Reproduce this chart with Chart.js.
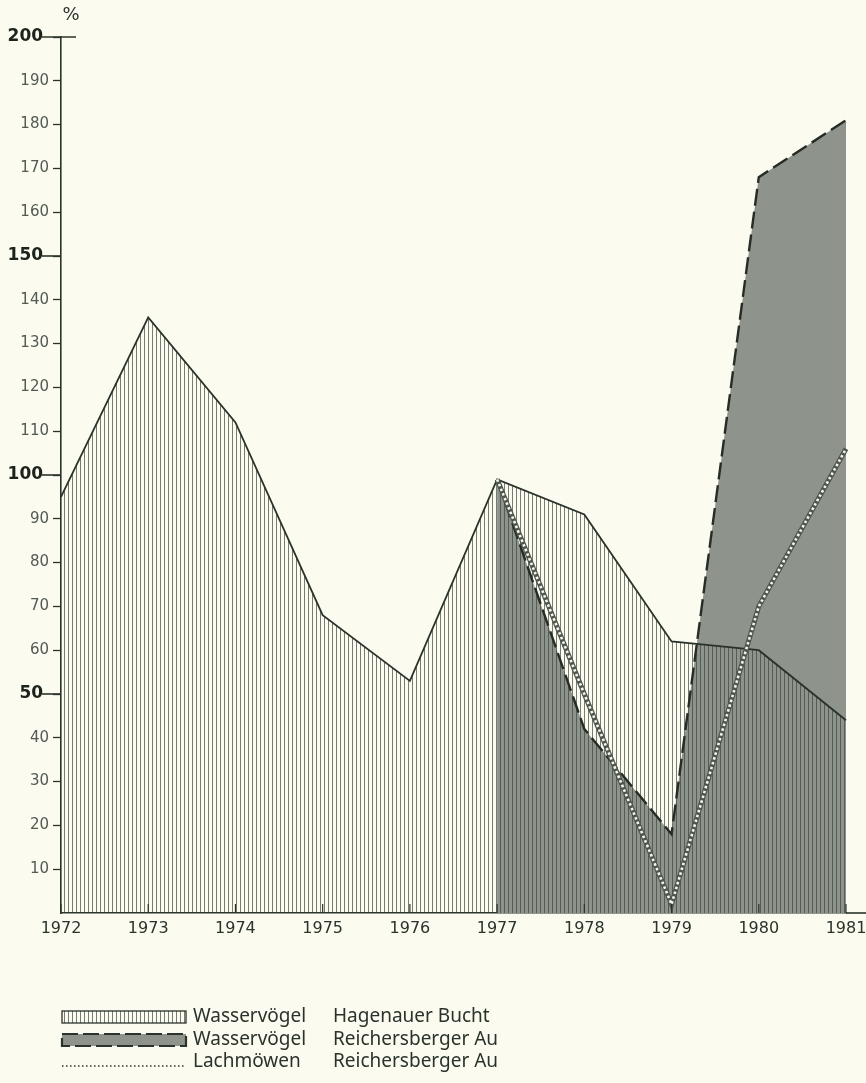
<!DOCTYPE html>
<html>
<head>
<meta charset="utf-8">
<script src="https://cdn.jsdelivr.net/npm/chart.js@4.4.1/dist/chart.umd.min.js"></script>
<style>
  body { margin: 0; background: #fbfbf0; }
  canvas { display: block; }
</style>
</head>
<body>
<canvas id="chart" width="866" height="1083"></canvas>
<script>
// values (% per year)
const years = ['1972', '1973', '1974', '1975', '1976', '1977', '1978', '1979', '1980', '1981'];
const hagenauerWasser = [95, 136, 112, 68, 53, 99, 91, 62, 60, 44];
const reichersbergWasser = [null, null, null, null, null, 99, 42, 18, 168, 181];
const reichersbergMoewen = [null, null, null, null, null, 99, 50, 2, 70, 106];
const yTicksBold = [50, 100, 150, 200];

const legendSpecies = ['Wasservögel', 'Wasservögel', 'Lachmöwen'];
const legendPlaces = ['Hagenauer Bucht', 'Reichersberger Au', 'Reichersberger Au'];

const ink = '#2a332b';
const grey = '#8e938b';

// vertical hatching used for Hagenauer Bucht
const makeHatch = () => {
  const c = document.createElement('canvas');
  c.width = 4;
  c.height = 8;
  const g = c.getContext('2d');
  g.fillStyle = 'rgba(60,70,60,0.7)';
  g.fillRect(0, 0, 1, 8);
  return g.createPattern(c, 'repeat');
};
const hatch = makeHatch();

// extra ticks, % sign, axis extension and legend
const decorPlugin = {
  id: 'decor',
  afterDraw(chart) {
    const ctx = chart.ctx;
    const y = chart.scales.y;
    const x = chart.scales.x;
    const area = chart.chartArea;
    ctx.save();
    ctx.strokeStyle = ink;
    ctx.lineWidth = 1.6;

    // long ticks for 50, 100, 150, 200
    yTicksBold.forEach(v => {
      const py = y.getPixelForValue(v);
      ctx.beginPath();
      ctx.moveTo(area.left - 19, py);
      ctx.lineTo(v === 200 ? area.left + 15 : area.left, py);
      ctx.stroke();
    });

    // x axis runs on past 1981
    ctx.beginPath();
    ctx.moveTo(area.right, area.bottom);
    ctx.lineTo(866, area.bottom);
    ctx.stroke();

    // small upward year ticks
    ctx.lineWidth = 1.2;
    years.forEach((yr, i) => {
      const px = x.getPixelForValue(i);
      ctx.beginPath();
      ctx.moveTo(px, area.bottom);
      ctx.lineTo(px, area.bottom - 9);
      ctx.stroke();
    });

    ctx.fillStyle = ink;
    ctx.font = '18px "DejaVu Sans"';
    ctx.textAlign = 'center';
    ctx.textBaseline = 'alphabetic';
    ctx.fillText('%', area.left + 10, 20);

    // legend
    const lx = 62, lw = 124;
    const rows = [1017, 1040, 1062];
    // row 1: hatched box
    ctx.fillStyle = hatch;
    ctx.fillRect(lx, rows[0] - 6, lw, 12);
    ctx.lineWidth = 1.3;
    ctx.strokeStyle = ink;
    ctx.strokeRect(lx, rows[0] - 6, lw, 12);
    // row 2: grey box with dashed border
    ctx.fillStyle = grey;
    ctx.fillRect(lx, rows[1] - 6, lw, 12);
    ctx.setLineDash([16, 5]);
    ctx.lineWidth = 2.2;
    ctx.strokeStyle = '#2c322c';
    ctx.strokeRect(lx, rows[1] - 6, lw, 12);
    // row 3: dotted line
    ctx.setLineDash([1.5, 2.5]);
    ctx.lineWidth = 1.3;
    ctx.beginPath();
    ctx.moveTo(lx, rows[2] + 4);
    ctx.lineTo(lx + lw, rows[2] + 4);
    ctx.stroke();
    ctx.setLineDash([]);

    ctx.fillStyle = ink;
    ctx.font = '19px "Noto Sans"';
    ctx.textAlign = 'left';
    ctx.textBaseline = 'middle';
    rows.forEach((ry, i) => {
      ctx.fillText(legendSpecies[i], 193, ry);
      ctx.fillText(legendPlaces[i], 333, ry);
    });
    ctx.restore();
  }
};

new Chart(document.getElementById('chart'), {
  type: 'line',
  data: {
    labels: years,
    datasets: [
      {
        label: 'Lachmöwen Reichersberger Au',
        data: reichersbergMoewen,
        borderColor: '#f6f6ec',
        borderWidth: 2.6,
        borderDash: [2.5, 2.5],
        fill: false,
        pointRadius: 0,
        tension: 0,
        order: 1
      },
      {
        label: 'Lachmöwen outline',
        data: reichersbergMoewen,
        borderColor: '#4e564e',
        borderWidth: 5,
        fill: false,
        pointRadius: 0,
        tension: 0,
        order: 2
      },
      {
        label: 'Wasservögel Reichersberger Au line',
        data: reichersbergWasser,
        borderColor: '#262c26',
        borderWidth: 2.4,
        borderDash: [17, 6],
        fill: false,
        pointRadius: 0,
        tension: 0,
        order: 3
      },
      {
        label: 'Wasservögel Hagenauer Bucht',
        data: hagenauerWasser,
        borderColor: ink,
        borderWidth: 1.8,
        backgroundColor: hatch,
        fill: 'origin',
        pointRadius: 0,
        tension: 0,
        order: 4
      },
      {
        label: 'Wasservögel Reichersberger Au',
        data: reichersbergWasser,
        borderWidth: 0,
        backgroundColor: grey,
        fill: 'origin',
        pointRadius: 0,
        tension: 0,
        order: 5
      }
    ]
  },
  options: {
    responsive: false,
    animation: false,
    layout: { padding: { left: 0, top: 37, right: 20, bottom: 140 } },
    plugins: {
      legend: { display: false },
      tooltip: { enabled: false }
    },
    scales: {
      x: {
        type: 'category',
        offset: false,
        afterFit: (s) => { s.height = 30; s.paddingLeft = 0; s.paddingRight = 0; },
        grid: { display: true, drawOnChartArea: false, drawTicks: false },
        border: { display: true, color: ink, width: 1.6 },
        ticks: {
          color: '#2a332b',
          font: { family: 'DejaVu Sans', size: 16 },
          padding: 6,
          maxRotation: 0,
          autoSkip: false
        }
      },
      y: {
        min: 0,
        max: 200,
        afterFit: (s) => { s.width = 61; },
        grid: {
          display: true,
          drawOnChartArea: false,
          drawTicks: true,
          tickLength: 8,
          tickColor: (c) => (c.tick && c.tick.value === 0) ? 'rgba(0,0,0,0)' : ink,
          tickWidth: 1.3
        },
        border: { display: true, color: ink, width: 1.6 },
        ticks: {
          stepSize: 10,
          padding: 4,
          color: (c) => (c.tick && c.tick.value % 50 === 0) ? '#1c221c' : '#525a52',
          font: (c) => (c.tick && c.tick.value % 50 === 0)
            ? { family: 'DejaVu Sans', size: 17, weight: 'bold' }
            : { family: 'DejaVu Sans', size: 15 },
          callback: (v) => {
            if (v === 0) return '';
            return v % 50 === 0 ? v + ' ' : String(v);
          }
        }
      }
    }
  },
  plugins: [decorPlugin]
});
</script>
</body>
</html>
